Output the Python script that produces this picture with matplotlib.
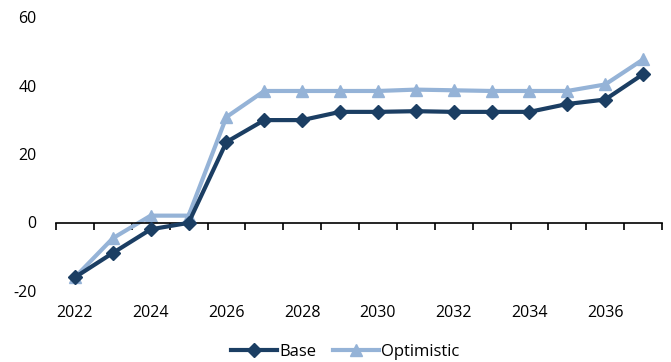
import matplotlib
matplotlib.use("Agg")
import matplotlib.pyplot as plt
import numpy as np

plt.rcParams["font.family"] = ["Open Sans", "DejaVu Sans"]

years = list(range(2022, 2038))
base = [-16.0, -8.9, -2.0, -0.1, 23.5, 29.9, 29.9, 32.3, 32.3, 32.5, 32.3, 32.3, 32.3, 34.6, 35.9, 43.3]
optimistic = [-16.0, -4.6, 2.0, 2.0, 30.8, 38.4, 38.4, 38.4, 38.4, 38.8, 38.6, 38.4, 38.4, 38.4, 40.3, 47.6]
yticks = [-20, 0, 20, 40, 60]

dark = "#1b3e63"
light = "#95b3d7"

fig = plt.figure(figsize=(6.71, 3.62), dpi=100)
ax = fig.add_axes([56 / 671, 1 - 291 / 362, (662 - 56) / 671, (291 - 17) / 362])

x = np.arange(len(years))
ax.plot(x, optimistic, color=light, lw=3, marker="^", ms=9, label="Optimistic", zorder=2)
ax.plot(x, base, color=dark, lw=3, marker="D", ms=7, label="Base", zorder=3)

ax.set_xlim(-0.5, len(years) - 0.5)
ax.set_ylim(-20, 60)
ax.set_yticks(yticks)
ax.set_yticklabels([str(v) for v in yticks], fontsize=11.5)
ax.tick_params(axis="y", length=0, pad=14)

for s in ["top", "right", "left"]:
    ax.spines[s].set_visible(False)
ax.spines["bottom"].set_position(("data", 0))
ax.spines["bottom"].set_color("black")
ax.spines["bottom"].set_linewidth(1.2)

# category boundaries as tick marks on the zero line
ax.set_xticks(np.arange(-0.5, len(years), 1.0))
ax.set_xticklabels([])
ax.tick_params(axis="x", direction="out", length=5, width=1.2, color="black")

for i, yr in enumerate(years):
    if i % 2 == 0:
        ax.text(i, -0.082, str(yr), transform=ax.get_xaxis_transform(),
                ha="center", va="center", fontsize=11.5)

handles, labels = ax.get_legend_handles_labels()
fig.legend(handles[::-1], labels[::-1], loc="center", bbox_to_anchor=(345 / 671, 1 - 352 / 362),
           ncol=2, frameon=False, fontsize=12, handlelength=2.8, handletextpad=0.1,
           columnspacing=1.0)

fig.savefig("out.png", dpi=100)
